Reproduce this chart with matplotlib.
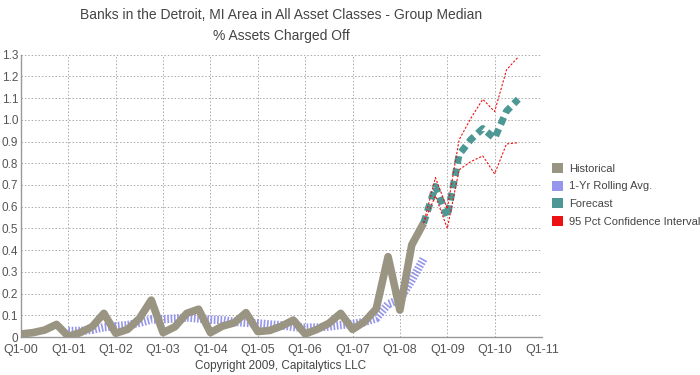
import matplotlib
matplotlib.use("Agg")
import matplotlib.pyplot as plt
from matplotlib.patches import Patch

plt.rcParams['font.family'] = ['Liberation Sans', 'DejaVu Sans']

# ---- data (quarter index 0 = Q1-00) ----
hist_x = list(range(0, 35))
hist_y = [0.014, 0.020, 0.032, 0.058, 0.003, 0.020, 0.047, 0.109,
          0.017, 0.035, 0.085, 0.170, 0.020, 0.047, 0.109, 0.128,
          0.020, 0.050, 0.065, 0.112, 0.025, 0.030, 0.050, 0.078,
          0.014, 0.035, 0.063, 0.109, 0.035, 0.070, 0.130, 0.370,
          0.124, 0.424, 0.524]

roll_x = list(range(4, 35))
roll_y = [0.028, 0.028, 0.033, 0.045, 0.050, 0.055, 0.065, 0.080,
          0.082, 0.085, 0.090, 0.085, 0.080, 0.078, 0.070, 0.065,
          0.063, 0.058, 0.054, 0.046, 0.043, 0.044, 0.048, 0.055,
          0.060, 0.069, 0.086, 0.151, 0.174, 0.262, 0.360]

fc_x = list(range(34, 43))
fc_y = [0.524, 0.693, 0.554, 0.840, 0.910, 0.960, 0.915, 1.040, 1.095]
ci_hi = [0.524, 0.734, 0.590, 0.908, 1.008, 1.095, 1.038, 1.230, 1.290]
ci_lo = [0.524, 0.650, 0.500, 0.770, 0.808, 0.834, 0.751, 0.889, 0.895]

xtick_pos = list(range(0, 45, 4))
xtick_labels = ['Q1-00', 'Q1-01', 'Q1-02', 'Q1-03', 'Q1-04', 'Q1-05',
                'Q1-06', 'Q1-07', 'Q1-08', 'Q1-09', 'Q1-10', 'Q1-11']
ytick_pos = [i / 10 for i in range(0, 14)]
ytick_labels = ['0'] + [f'{v:.1f}' for v in ytick_pos[1:]]

series_names = ['Historical', '1-Yr Rolling Avg.', 'Forecast',
                '95 Pct Confidence Interval']
c_hist = '#9a9583'
c_roll = '#9696ec'
c_fc = '#4d9894'
c_ci = '#ee1111'

fig = plt.figure(figsize=(7, 3.75), dpi=100)
ax = fig.add_axes([21 / 700, 1 - 337 / 375, (542 - 21) / 700, (337 - 54.7) / 375])

ax.plot(roll_x, roll_y, color=c_roll, lw=6, ls=(0, (0.2, 0.2)),
        solid_capstyle='butt', dash_capstyle='butt', zorder=2)
ax.plot(hist_x, hist_y, color=c_hist, lw=5.5, solid_joinstyle='round',
        solid_capstyle='butt', zorder=3)
ax.plot(fc_x, fc_y, color=c_fc, lw=5, ls=(0, (1.1, 0.7)),
        dash_capstyle='butt', zorder=4)
ax.plot(fc_x, ci_hi, color=c_ci, lw=0.8, ls=(0, (2, 1.5)), zorder=5)
ax.plot(fc_x, ci_lo, color=c_ci, lw=0.8, ls=(0, (2, 1.5)), zorder=5)

ax.set_xlim(0, 44)
ax.set_ylim(0, 1.3)
ax.set_xticks(xtick_pos)
ax.set_xticklabels(xtick_labels)
ax.set_yticks(ytick_pos)
ax.set_yticklabels(ytick_labels)
ax.tick_params(axis='both', length=0, labelcolor='#555555')
ax.tick_params(axis='x', labelsize=9, pad=5)
ax.tick_params(axis='y', labelsize=8.5, pad=2)
ax.grid(True, color='#aaaaaa', lw=0.7, ls=(0, (1.5, 2)))
ax.set_axisbelow(True)
for s in ['top', 'right']:
    ax.spines[s].set_visible(False)
for s in ['left', 'bottom']:
    ax.spines[s].set_color('#999999')
    ax.spines[s].set_linewidth(1)

fig.text(281 / 700, 1 - 15 / 375, 'Banks in the Detroit, MI Area in All Asset Classes - Group Median',
         ha='center', va='center', fontsize=10, color='#444444')
fig.text(281 / 700, 1 - 36 / 375, '% Assets Charged Off',
         ha='center', va='center', fontsize=10, color='#444444')
fig.text(281 / 700, 1 - 366 / 375, 'Copyright 2009, Capitalytics LLC',
         ha='center', va='center', fontsize=8.5, color='#444444')

handles = [Patch(facecolor=c, edgecolor='none') for c in [c_hist, c_roll, c_fc, c_ci]]
fig.legend(handles, series_names, loc='upper left',
           bbox_to_anchor=(552 / 700, 1 - 163 / 375), frameon=False,
           fontsize=8, handlelength=1.0, handleheight=1.0,
           handletextpad=0.5, labelspacing=0.62, borderpad=0, borderaxespad=0,
           labelcolor='#444444')

fig.savefig('out.png', dpi=100)
